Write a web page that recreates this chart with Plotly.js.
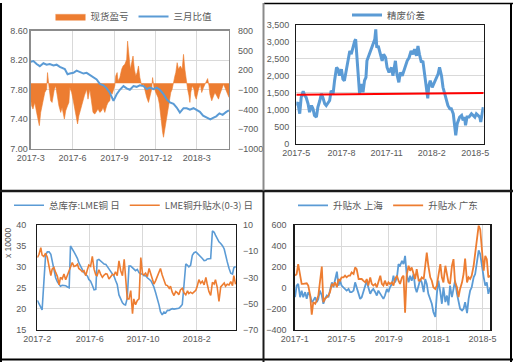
<!DOCTYPE html>
<html><head><meta charset="utf-8">
<script src="https://cdn.plot.ly/plotly-3.0.1.min.js"></script>
<style>html,body{margin:0;padding:0;background:#fff;}#chart{width:513px;height:362px;}</style>
</head><body><div id="chart"></div>
<script>
// ---------- Panel 1: 现货盈亏 (right axis, orange area) & 三月比值 (left axis, blue line)
const p1SpotDates = ['2017-03-01','2017-03-03','2017-03-06','2017-03-10','2017-03-14','2017-03-17','2017-03-20','2017-03-23','2017-03-28','2017-04-01',
'2017-04-05','2017-04-07','2017-04-10','2017-04-14','2017-04-17','2017-04-22','2017-04-25','2017-04-29','2017-05-02','2017-05-06',
'2017-05-09','2017-05-14','2017-05-17','2017-05-21','2017-05-24','2017-05-26','2017-05-30','2017-06-02','2017-06-06','2017-06-10',
'2017-06-12','2017-06-15','2017-06-19','2017-06-22','2017-06-27','2017-07-02','2017-07-05','2017-07-09','2017-07-13','2017-07-16',
'2017-07-20','2017-07-24','2017-07-27','2017-07-31','2017-08-04','2017-08-07','2017-08-11','2017-08-15','2017-08-18','2017-08-22',
'2017-08-24','2017-08-27','2017-08-30','2017-09-02','2017-09-04','2017-09-07','2017-09-09','2017-09-13','2017-09-17','2017-09-20',
'2017-09-24','2017-09-28','2017-09-30','2017-10-03','2017-10-06','2017-10-09','2017-10-12','2017-10-15','2017-10-18','2017-10-21',
'2017-10-24','2017-10-27','2017-10-31','2017-11-04','2017-11-08','2017-11-11','2017-11-15','2017-11-19','2017-11-22','2017-11-24',
'2017-11-27','2017-12-01','2017-12-06','2017-12-09','2017-12-11','2017-12-13','2017-12-16','2017-12-18','2017-12-21','2017-12-24',
'2017-12-28','2017-12-31','2018-01-03','2018-01-06','2018-01-09','2018-01-12','2018-01-14','2018-01-17','2018-01-20','2018-01-24',
'2018-01-28','2018-01-31','2018-02-03','2018-02-06','2018-02-09','2018-02-12','2018-02-14','2018-02-16','2018-02-19','2018-02-23',
'2018-02-25','2018-02-28','2018-03-02','2018-03-05','2018-03-09','2018-03-12','2018-03-16','2018-03-19','2018-03-23','2018-03-25',
'2018-03-28','2018-03-30','2018-04-03','2018-04-07','2018-04-10','2018-04-14','2018-04-18','2018-04-21','2018-04-25','2018-04-29',
'2018-05-02','2018-05-06','2018-05-09','2018-05-11'];
const p1SpotPnL = [-243,-344,-394,-293,-445,-546,-647,-445,-243,-142,
-91,162,-40,-268,-293,-91,-40,-243,-344,-445,
-369,-546,-420,-344,-293,-66,-142,-243,-394,-495,
-622,-495,-394,-293,-192,-91,-243,-91,-293,-445,
-470,-420,-394,-445,-420,-369,-445,-344,-293,-268,
-142,-167,-91,-40,111,162,35,86,212,263,
288,364,642,364,212,313,415,212,111,162,
263,86,-40,-15,-142,-217,-293,-192,-91,86,
-66,-142,-217,-318,-445,-647,-748,-824,-698,-546,
-344,-243,-142,-91,35,111,162,313,212,263,
212,440,212,35,-91,-192,-293,-142,-40,-91,
-192,-243,-167,-91,-15,-142,-66,-15,35,71,
-40,-167,-268,-192,-142,-192,-243,-167,-91,-15,
-66,-142,-192,-217];
const p1RatioDates = ['2017-03-01','2017-03-07','2017-03-14','2017-03-21','2017-03-29','2017-04-05','2017-04-12','2017-04-20','2017-04-27','2017-05-04',
'2017-05-15','2017-05-21','2017-05-26','2017-06-03','2017-06-10','2017-06-17','2017-06-25','2017-07-02','2017-07-09','2017-07-17',
'2017-07-24','2017-07-31','2017-08-08','2017-08-15','2017-08-22','2017-08-30','2017-09-02','2017-09-06','2017-09-13','2017-09-21',
'2017-09-28','2017-10-05','2017-10-13','2017-10-20','2017-10-27','2017-11-04','2017-11-11','2017-11-18','2017-11-26','2017-12-03',
'2017-12-10','2017-12-18','2017-12-25','2018-01-01','2018-01-09','2018-01-16','2018-01-23','2018-01-31','2018-02-07','2018-02-14',
'2018-02-22','2018-03-01','2018-03-08','2018-03-15','2018-03-22','2018-03-31','2018-04-06','2018-04-13','2018-04-20','2018-04-27',
'2018-05-05','2018-05-11'];
const p1Ratio = [8.18,8.19,8.15,8.12,8.16,8.14,8.15,8.13,8.14,8.11,
8.08,8.01,8.02,8.03,8.06,8.04,8.02,8.03,8.00,7.97,
7.94,7.88,7.86,7.82,7.76,7.65,7.70,7.74,7.80,7.85,
7.82,7.80,7.85,7.84,7.86,7.85,7.81,7.83,7.81,7.83,
7.80,7.74,7.67,7.63,7.61,7.56,7.49,7.55,7.55,7.53,
7.55,7.52,7.50,7.45,7.43,7.40,7.42,7.44,7.48,7.46,
7.50,7.52];
const p1TickVals = ['2017-03-01','2017-06-01','2017-09-01','2017-12-01','2018-03-01'];
const p1TickText = ['2017-3','2017-6','2017-9','2017-12','2018-3'];

// ---------- Panel 2: 精废价差
const p2Dates = ['2017-05-01','2017-05-04','2017-05-08','2017-05-11','2017-05-15','2017-05-18','2017-05-21','2017-05-25','2017-05-28','2017-06-01',
'2017-06-04','2017-06-07','2017-06-11','2017-06-14','2017-06-18','2017-06-21','2017-06-24','2017-06-28','2017-07-01','2017-07-05',
'2017-07-08','2017-07-11','2017-07-15','2017-07-18','2017-07-22','2017-07-25','2017-07-28','2017-08-01','2017-08-04','2017-08-07',
'2017-08-11','2017-08-14','2017-08-18','2017-08-21','2017-08-24','2017-08-28','2017-08-30','2017-09-01','2017-09-04','2017-09-07',
'2017-09-10','2017-09-14','2017-09-17','2017-09-20','2017-09-22','2017-09-27','2017-10-03','2017-10-08','2017-10-10','2017-10-12',
'2017-10-15','2017-10-19','2017-10-23','2017-10-26','2017-10-30','2017-11-02','2017-11-06','2017-11-11','2017-11-14','2017-11-19',
'2017-11-22','2017-11-26','2017-11-29','2017-12-03','2017-12-08','2017-12-13','2017-12-17','2017-12-21','2017-12-25','2017-12-28',
'2018-01-01','2018-01-04','2018-01-07','2018-01-11','2018-01-14','2018-01-18','2018-01-21','2018-01-24','2018-01-26','2018-01-29',
'2018-02-02','2018-02-07','2018-02-10','2018-02-14','2018-02-17','2018-02-21','2018-02-24','2018-02-28','2018-03-03','2018-03-06',
'2018-03-10','2018-03-13','2018-03-17','2018-03-20','2018-03-22','2018-03-25','2018-03-27','2018-03-30','2018-04-03','2018-04-06',
'2018-04-09','2018-04-11','2018-04-14','2018-04-18','2018-04-23','2018-04-26','2018-04-30','2018-05-03','2018-05-06','2018-05-10',
'2018-05-12','2018-05-15','2018-05-17'];
const p2Spread = [1121,1219,880,1365,1540,1414,1365,1170,926,1121,
1024,829,780,1073,1268,1462,1365,1170,1121,1219,
1268,1560,1462,1852,2243,2194,2000,2194,1901,1852,
2145,2340,2730,2633,2828,3023,3071,2633,1901,1462,
1755,1511,1852,1950,2438,2633,2828,3071,3364,2828,
2876,2681,2438,2633,2535,2243,2096,2243,2000,2438,
2048,1804,2096,2000,2243,2438,2535,2730,2633,2779,
2584,2876,2633,2389,2438,2048,1755,1330,1706,1852,
1658,1804,1901,2048,2243,2000,1658,1462,1268,1121,
1024,1024,878,585,244,585,683,780,829,683,
780,536,780,780,878,829,780,878,829,780,
634,926,1073];
const p2TrendDates = ['2017-05-01','2018-05-18'];
const p2Trend = [1440,1492];
const p2TickVals = ['2017-05-01','2017-08-01','2017-11-01','2018-02-01','2018-05-01'];
const p2TickText = ['2017-5','2017-8','2017-11','2018-2','2018-5'];

// ---------- Panel 3: 总库存:LME铜 (left, x10000) & LME铜升贴水(0-3) (right)
const p3Dates = ['2017-02-01','2017-02-05','2017-02-09','2017-02-12','2017-02-16','2017-02-20','2017-02-24','2017-02-28','2017-03-04','2017-03-07',
'2017-03-11','2017-03-15','2017-03-19','2017-03-23','2017-03-26','2017-03-30','2017-04-03','2017-04-07','2017-04-11','2017-04-15',
'2017-04-18','2017-04-22','2017-04-26','2017-04-30','2017-05-04','2017-05-07','2017-05-11','2017-05-15','2017-05-19','2017-05-23',
'2017-05-27','2017-05-30','2017-06-03','2017-06-07','2017-06-11','2017-06-15','2017-06-18','2017-06-22','2017-06-26','2017-06-30',
'2017-07-04','2017-07-08','2017-07-11','2017-07-15','2017-07-19','2017-07-23','2017-07-27','2017-07-30','2017-08-03','2017-08-07',
'2017-08-11','2017-08-15','2017-08-19','2017-08-22','2017-08-26','2017-08-30','2017-09-03','2017-09-07','2017-09-10','2017-09-14',
'2017-09-18','2017-09-22','2017-09-26','2017-09-30','2017-10-03','2017-10-07','2017-10-11','2017-10-15','2017-10-19','2017-10-22',
'2017-10-26','2017-10-30','2017-11-03','2017-11-07','2017-11-10','2017-11-14','2017-11-18','2017-11-22','2017-11-26','2017-11-30',
'2017-12-03','2017-12-07','2017-12-11','2017-12-15','2017-12-19','2017-12-22','2017-12-26','2017-12-30','2018-01-03','2018-01-07',
'2018-01-11','2018-01-14','2018-01-18','2018-01-22','2018-01-26','2018-01-30','2018-02-02','2018-02-06','2018-02-10','2018-02-14',
'2018-02-18','2018-02-22','2018-02-25','2018-03-01','2018-03-05','2018-03-09','2018-03-13','2018-03-16','2018-03-20','2018-03-24',
'2018-03-28','2018-04-01','2018-04-05','2018-04-08','2018-04-12','2018-04-16','2018-04-20','2018-04-24','2018-04-27','2018-05-01'];
const p3Stock = [22.0,21.2,20.5,19.7,26.3,32.8,33.6,33.6,33.0,31.2,
29.0,27.4,26.4,25.7,25.4,25.6,25.6,25.5,25.2,25.0,
35.0,34.4,33.6,32.8,32.0,31.0,30.0,29.4,28.6,28.3,
27.8,27.0,26.6,25.6,24.5,24.6,31.6,31.8,31.4,31.0,
30.7,30.6,30.1,29.4,28.8,28.3,27.7,26.8,25.8,23.3,
22.2,21.4,21.0,20.9,22.5,30.2,30.2,29.8,29.4,29.1,
29.4,28.6,28.3,28.3,27.9,27.9,27.4,27.1,26.7,26.1,
25.2,23.8,22.4,20.8,19.3,18.5,19.2,19.0,19.6,19.6,
19.8,20.0,19.9,20.0,20.0,20.1,20.5,21.0,25.8,30.7,
30.4,30.0,30.4,32.8,33.4,33.6,33.3,32.9,32.6,32.0,
31.5,31.6,31.9,31.9,32.0,38.6,38.3,37.6,36.8,36.0,
35.6,35.1,34.3,32.7,31.2,29.7,28.5,28.3,29.8,30.1];
const p3Spread = [-14.8,-12.3,-7.2,-13.0,-14.0,-11.5,-14.8,-21.1,-28.7,-23.7,
-22.4,-26.2,-29.2,-35.8,-30.0,-31.3,-27.5,-31.8,-28.2,-24.9,
-20.6,-18.6,-21.6,-21.1,-19.9,-23.2,-24.2,-25.7,-24.9,-28.7,
-23.7,-20.6,-21.6,-14.0,-23.7,-28.2,-28.7,-24.2,-27.5,-30.0,
-28.2,-27.2,-27.5,-31.3,-29.5,-27.7,-28.2,-25.7,-28.7,-17.3,
-24.9,-28.7,-16.1,-27.5,-46.5,-46.5,-40.1,-57.8,-46.5,-51.0,
-47.7,-46.5,-14.8,-27.5,-28.2,-26.7,-29.5,-23.2,-27.5,-32.5,
-35.1,-32.5,-28.7,-24.9,-23.2,-28.2,-31.8,-35.8,-36.3,-38.4,
-36.8,-41.4,-43.9,-40.9,-41.9,-43.4,-39.4,-38.4,-41.9,-43.4,
-40.4,-42.4,-41.4,-42.4,-41.1,-39.9,-37.1,-31.8,-34.6,-33.0,
-35.8,-30.0,-35.1,-40.9,-43.9,-33.8,-35.1,-31.8,-37.6,-48.5,
-37.3,-35.8,-34.3,-36.8,-35.3,-35.8,-33.3,-36.3,-28.7,-35.3];
const p3TickVals = ['2017-02-01','2017-06-01','2017-10-01','2018-02-01'];
const p3TickText = ['2017-2','2017-6','2017-10','2018-2'];

// ---------- Panel 4: 升贴水 上海 / 升贴水 广东
const p4Dates = ['2017-01-02','2017-01-06','2017-01-10','2017-01-15','2017-01-19','2017-01-23','2017-01-28','2017-02-01','2017-02-05','2017-02-10',
'2017-02-14','2017-02-18','2017-02-23','2017-02-27','2017-03-03','2017-03-07','2017-03-12','2017-03-16','2017-03-20','2017-03-25',
'2017-03-29','2017-04-02','2017-04-07','2017-04-11','2017-04-15','2017-04-20','2017-04-24','2017-04-28','2017-05-02','2017-05-07',
'2017-05-11','2017-05-15','2017-05-20','2017-05-24','2017-05-28','2017-06-02','2017-06-06','2017-06-10','2017-06-15','2017-06-19',
'2017-06-23','2017-06-27','2017-07-02','2017-07-06','2017-07-10','2017-07-15','2017-07-19','2017-07-23','2017-07-28','2017-08-01',
'2017-08-05','2017-08-10','2017-08-14','2017-08-18','2017-08-22','2017-08-27','2017-08-31','2017-09-04','2017-09-09','2017-09-13',
'2017-09-17','2017-09-22','2017-09-26','2017-09-30','2017-10-05','2017-10-09','2017-10-13','2017-10-17','2017-10-22','2017-10-26',
'2017-10-30','2017-11-04','2017-11-08','2017-11-12','2017-11-17','2017-11-21','2017-11-25','2017-11-30','2017-12-04','2017-12-08',
'2017-12-12','2017-12-17','2017-12-21','2017-12-25','2017-12-30','2018-01-03','2018-01-07','2018-01-12','2018-01-16','2018-01-20',
'2018-01-25','2018-01-29','2018-02-02','2018-02-06','2018-02-11','2018-02-15','2018-02-19','2018-02-24','2018-02-28','2018-03-04',
'2018-03-09','2018-03-13','2018-03-17','2018-03-22','2018-03-26','2018-03-30','2018-04-03','2018-04-08','2018-04-12','2018-04-16',
'2018-04-21','2018-04-25','2018-04-29','2018-05-04','2018-05-08','2018-05-12','2018-05-16','2018-05-21'];
const p4Shanghai = [-90,21,37,-90,-27,-90,-42,-106,-42,-74,
-137,-122,-90,-137,-106,-27,-74,-153,-106,-74,
-90,-27,52,5,68,154,21,68,21,5,
-11,-27,-11,-42,-42,-27,52,5,-58,-106,
-90,-42,21,68,5,-58,-27,-11,-42,-74,
-27,-58,-90,-106,-74,-11,-42,5,37,116,
52,100,226,211,258,226,306,132,52,116,
68,132,5,-42,21,84,52,-42,84,37,
-58,-106,-153,-232,-280,-58,68,-42,-153,5,
-137,-74,-169,21,-90,-11,68,-58,-122,-201,
-217,-201,-137,-242,-106,-27,5,100,132,242,
359,321,211,100,21,52,-58,5];
const p4Guangdong = [116,132,226,116,37,37,37,43,21,-74,
-258,-137,-153,-122,-74,68,204,-137,-106,-90,
-74,-42,37,21,52,5,84,68,100,100,
116,100,116,116,147,132,195,179,84,84,
84,68,52,84,21,100,37,21,37,5,
52,116,37,21,68,21,52,37,52,21,
84,116,68,37,100,116,-239,116,211,163,
195,132,84,179,68,68,100,84,242,337,
211,100,68,5,-11,21,116,226,100,52,
211,132,52,37,211,274,52,5,-90,-11,
52,132,280,52,100,84,116,211,321,432,
597,559,337,163,306,274,100,116];
const p4TickVals = ['2017-01-01','2017-05-01','2017-09-01','2018-01-01','2018-05-01'];
const p4TickText = ['2017-1','2017-5','2017-9','2018-1','2018-5'];

// ---------- styling / layout helpers
const W = 513, H = 362;
const px = v => v / W;
const py = v => 1 - v / H;
const BLUE = '#5B9BD5', ORANGE = '#ED7D31';
const GRID = '#D9D9D9', TXT = '#595959';
const TICKFONT = {family: 'Liberation Sans, Arial, sans-serif', size: 9, color: TXT};
const LEGFONT = {family: 'Noto Sans CJK SC, sans-serif', size: 9.5, color: TXT};

const traces = [
  {x: p1SpotDates, y: p1SpotPnL, name: '现货盈亏', type: 'scatter', mode: 'lines',
   fill: 'tozeroy', fillcolor: ORANGE, line: {color: ORANGE, width: 0.6},
   xaxis: 'x', yaxis: 'y', legend: 'legend'},
  {x: p1RatioDates, y: p1Ratio, name: '三月比值', type: 'scatter', mode: 'lines',
   line: {color: BLUE, width: 2}, xaxis: 'x', yaxis: 'y2', legend: 'legend'},
  {x: p2Dates, y: p2Spread, name: '精废价差', type: 'scatter', mode: 'lines',
   line: {color: BLUE, width: 3}, xaxis: 'x2', yaxis: 'y3', legend: 'legend2'},
  {x: p2TrendDates, y: p2Trend, name: 'trend', type: 'scatter', mode: 'lines', showlegend: false,
   line: {color: '#FF0000', width: 2}, xaxis: 'x2', yaxis: 'y3', legend: 'legend2'},
  {x: p3Dates, y: p3Stock, name: '总库存:LME铜 日', type: 'scatter', mode: 'lines',
   line: {color: BLUE, width: 1.6}, xaxis: 'x3', yaxis: 'y4', legend: 'legend3'},
  {x: p3Dates, y: p3Spread, name: 'LME铜升贴水(0-3) 日', type: 'scatter', mode: 'lines',
   line: {color: ORANGE, width: 1.6}, xaxis: 'x3', yaxis: 'y5', legend: 'legend3'},
  {x: p4Dates, y: p4Shanghai, name: '升贴水 上海', type: 'scatter', mode: 'lines',
   line: {color: BLUE, width: 1.8}, xaxis: 'x4', yaxis: 'y6', legend: 'legend4'},
  {x: p4Dates, y: p4Guangdong, name: '升贴水 广东', type: 'scatter', mode: 'lines',
   line: {color: ORANGE, width: 1.8}, xaxis: 'x4', yaxis: 'y6', legend: 'legend4'}
];

function xAx(dom, anchor, range, tv, tt, grid, lc) {
  return {domain: dom, anchor: anchor, type: 'date', range: range, tickmode: 'array',
    tickvals: tv, ticktext: tt, showgrid: grid, gridcolor: GRID, gridwidth: 1,
    showline: true, linecolor: lc, linewidth: 1.3, mirror: true, ticks: '',
    zeroline: false, tickfont: TICKFONT, fixedrange: true};
}
function legendAt(x, y) {
  return {x: x, y: y, xanchor: 'center', yanchor: 'middle', orientation: 'h',
    font: LEGFONT, bgcolor: 'rgba(0,0,0,0)', itemwidth: 30, tracegroupgap: 0};
}

const dom1x = [px(30.7), px(229)], dom1y = [py(147), py(28)];
const dom2x = [px(296.3), px(483.7)], dom2y = [py(141.7), py(22)];
const dom3x = [px(37.3), px(236)], dom3y = [py(329.3), py(224)];
const dom4x = [px(294.7), px(490.3)], dom4y = [py(329.3), py(224)];

const layout = {
  width: W, height: H, margin: {l: 0, r: 0, t: 0, b: 0},
  paper_bgcolor: '#ffffff', plot_bgcolor: '#ffffff',
  font: TICKFONT,
  xaxis: xAx(dom1x, 'y', ['2017-03-01', '2018-05-11'], p1TickVals, p1TickText, true, '#8c8c8c'),
  yaxis: {domain: dom1y, anchor: 'x', side: 'right', range: [-1000, 800], tickmode: 'linear', tick0: -1000, dtick: 300,
    showgrid: false, zeroline: false, showline: true, linecolor: '#8c8c8c', linewidth: 1.3, mirror: true,
    ticks: '', tickfont: TICKFONT, ticklabelstandoff: 6, fixedrange: true},
  yaxis2: {overlaying: 'y', anchor: 'x', side: 'left', range: [7.0, 8.6], tickmode: 'linear', tick0: 7.0, dtick: 0.4,
    tickformat: '.2f', showgrid: true, gridcolor: GRID, zeroline: false, showline: false, ticks: '',
    tickfont: TICKFONT, ticklabelstandoff: 2, fixedrange: true},
  xaxis2: xAx(dom2x, 'y3', ['2017-05-01', '2018-05-18'], p2TickVals, p2TickText, false, '#1a1a1a'),
  yaxis3: {domain: dom2y, anchor: 'x2', range: [0, 3500], tickmode: 'linear', tick0: 0, dtick: 500, tickformat: ',',
    showgrid: true, gridcolor: GRID, zeroline: false, showline: true, linecolor: '#1a1a1a', linewidth: 1.3, mirror: true,
    ticks: '', tickfont: TICKFONT, ticklabelstandoff: 4, fixedrange: true},
  xaxis3: xAx(dom3x, 'y4', ['2017-02-01', '2018-05-02'], p3TickVals, p3TickText, true, '#1a1a1a'),
  yaxis4: {domain: dom3y, anchor: 'x3', range: [15, 40], tickmode: 'linear', tick0: 15, dtick: 5,
    showgrid: true, gridcolor: GRID, zeroline: false, showline: true, linecolor: '#1a1a1a', linewidth: 1.3, mirror: true,
    ticks: '', tickfont: TICKFONT, ticklabelstandoff: 8, fixedrange: true},
  yaxis5: {overlaying: 'y4', anchor: 'x3', side: 'right', range: [-70, 10], tickmode: 'linear', tick0: -70, dtick: 20,
    showgrid: false, zeroline: false, showline: false, ticks: '', tickfont: TICKFONT, ticklabelstandoff: 6, fixedrange: true},
  xaxis4: xAx(dom4x, 'y6', ['2017-01-01', '2018-05-21'], p4TickVals, p4TickText, true, '#1a1a1a'),
  yaxis6: {domain: dom4y, anchor: 'x4', range: [-400, 600], tickmode: 'linear', tick0: -400, dtick: 200,
    showgrid: true, gridcolor: GRID, zeroline: false, showline: true, linecolor: '#1a1a1a', linewidth: 1.3, mirror: true,
    ticks: '', tickfont: TICKFONT, ticklabelstandoff: 5, fixedrange: true},
  legend: legendAt(px(134), py(13.5)),
  legend2: legendAt(px(389), py(12)),
  legend3: legendAt(px(134), py(204)),
  legend4: legendAt(px(388), py(204)),
  annotations: [
    {text: 'x 10000', xref: 'paper', yref: 'paper', x: px(8), y: py(242), textangle: -90,
     showarrow: false, xanchor: 'center', yanchor: 'middle',
     font: {family: 'Liberation Sans, Arial, sans-serif', size: 8.5, color: TXT}}
  ],
  shapes: [
    {type: 'line', xref: 'paper', yref: 'paper', x0: px(1), x1: px(1), y0: py(0), y1: py(362), line: {color: '#000', width: 2}},
    {type: 'line', xref: 'paper', yref: 'paper', x0: px(0), x1: px(513), y0: py(359.5), y1: py(359.5), line: {color: '#000', width: 2}},
    {type: 'line', xref: 'paper', yref: 'paper', x0: px(511), x1: px(511), y0: py(0), y1: py(362), line: {color: '#000', width: 2}},
    {type: 'line', xref: 'paper', yref: 'paper', x0: px(264), x1: px(513), y0: py(0.5), y1: py(0.5), line: {color: '#000', width: 1.5}},
    {type: 'line', xref: 'paper', yref: 'paper', x0: px(0), x1: px(513), y0: py(189.5), y1: py(189.5), line: {color: '#1a1a1a', width: 2.5}},
    {type: 'line', xref: 'paper', yref: 'paper', x0: px(263.5), x1: px(263.5), y0: py(0), y1: py(189), line: {color: '#8a8a8a', width: 2}},
    {type: 'line', xref: 'paper', yref: 'paper', x0: px(263.5), x1: px(263.5), y0: py(190), y1: py(362), line: {color: '#1a1a1a', width: 2}}
  ]
};

Plotly.newPlot('chart', traces, layout, {staticPlot: true, displayModeBar: false});
</script></body></html>
